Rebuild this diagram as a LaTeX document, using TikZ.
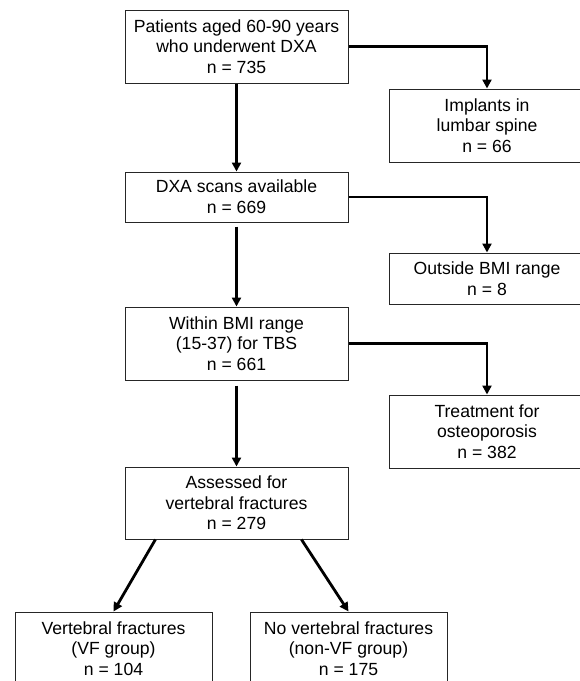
\documentclass[tikz,border=0pt]{standalone}
\usepackage{fontspec}
\setmainfont{Liberation Sans}
\usetikzlibrary{arrows.meta,calc}
\begin{document}
\begin{tikzpicture}[x=1pt,y=-1pt,
  box/.style={draw=black!85,line width=1pt,rectangle,inner sep=0pt,align=center,
    font=\fontsize{17.6}{20.7}\selectfont},
  arr/.style={line width=2.8pt,-{Triangle[width=9pt,length=9pt]}}]
\useasboundingbox (0,0) rectangle (580,681);
\clip (0,0) rectangle (580,681);
\fill[white] (0,0) rectangle (580,681);
\node[box,minimum width=223pt,minimum height=73pt] (b1) at (236.5,46.5) {Patients aged 60-90 years\\who underwent DXA\\n = 735};
\node[box,minimum width=196pt,minimum height=73pt] (imp) at (487,125.5) {Implants in\\lumbar spine\\n = 66};
\node[box,minimum width=223pt,minimum height=50pt] (b2) at (236.5,197) {DXA scans available\\n = 669};
\node[box,minimum width=196pt,minimum height=51pt] (out) at (487,278.5) {Outside BMI range\\n = 8};
\node[box,minimum width=223pt,minimum height=73pt] (b3) at (236.5,343.5) {Within BMI range\\(15-37) for TBS\\n = 661};
\node[box,minimum width=196pt,minimum height=73pt] (treat) at (487,431.5) {Treatment for\\osteoporosis\\n = 382};
\node[box,minimum width=223pt,minimum height=72pt] (ass) at (236.5,503) {Assessed for\\vertebral fractures\\n = 279};
\node[box,minimum width=197pt,minimum height=73pt] (vf) at (113.5,648.5) {Vertebral fractures\\(VF group)\\n = 104};
\node[box,minimum width=197pt,minimum height=73pt] (nvf) at (348.5,648.5) {No vertebral fractures\\(non-VF group)\\n = 175};
\draw[arr] (b1.east) -| (imp.north);
\draw[arr] (b1.south) -- (b2.north);
\draw[arr] (b2.east) -| (out.north);
\draw[arr,shorten <=4pt] (b2.south) -- (b3.north);
\draw[arr] (b3.east) -| (treat.north);
\draw[arr,shorten <=5pt] (b3.south) -- (ass.north);
\coordinate (a1) at ($(ass.south west)!0.138!(ass.south east)$);
\coordinate (a2) at ($(ass.south west)!0.79!(ass.south east)$);
\draw[arr] (a1) -- (vf.north);
\draw[arr] (a2) -- (nvf.north);
\end{tikzpicture}
\end{document}
